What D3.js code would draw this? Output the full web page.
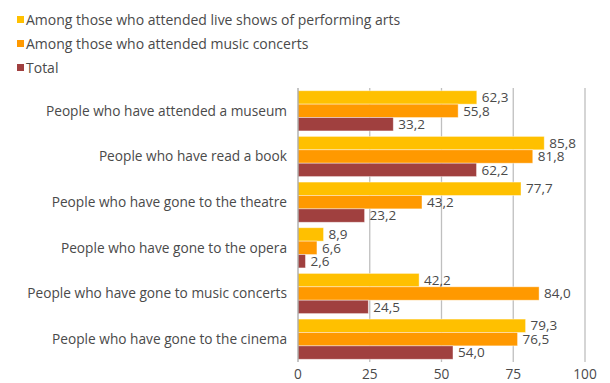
<!DOCTYPE html>
<html>
<head>
<meta charset="utf-8">
<script src="https://cdn.jsdelivr.net/npm/d3@7"></script>
<style>
  body { margin: 0; background: #fff; }
  text { font-family: "Open Sans", "Liberation Sans", sans-serif; fill: #4a4a4a; }
</style>
</head>
<body>
<div id="chart"></div>
<script>
// categories top to bottom
var categories = [
  "People who have attended a museum",
  "People who have read a book",
  "People who have gone to the theatre",
  "People who have gone to the opera",
  "People who have gone to music concerts",
  "People who have gone to the cinema"
];
var seriesNames = [
  "Among those who attended live shows of performing arts",
  "Among those who attended music concerts",
  "Total"
];
var performingArts = [62.3, 85.8, 77.7, 8.9, 42.2, 79.3];
var musicConcerts = [55.8, 81.8, 43.2, 6.6, 84.0, 76.5];
var total = [33.2, 62.2, 23.2, 2.6, 24.5, 54.0];
var xTicks = [0, 25, 50, 75, 100];

var colors = ["#FFC000", "#FF9900", "#A0403F"];
var series = [performingArts, musicConcerts, total];

var width = 610, height = 383;
var margin = {top: 88, left: 298, right: 25, bottom: 21};

var svg = d3.select("#chart").append("svg")
  .attr("width", width)
  .attr("height", height);

var x = d3.scaleLinear().domain([0, 100]).range([margin.left, width - margin.right]);
var y = d3.scaleBand().domain(categories).range([margin.top, height - margin.bottom]).paddingInner(0.12).paddingOuter(0.06);
var ySub = d3.scaleBand().domain([0, 1, 2]).range([0, y.bandwidth()]);

// gridlines
svg.append("g").selectAll("line")
  .data(xTicks.slice(1))
  .enter().append("line")
    .attr("x1", d => x(d)).attr("x2", d => x(d))
    .attr("y1", margin.top).attr("y2", height - margin.bottom)
    .attr("stroke", "#BFBFBF").attr("stroke-width", 1.3);

// bars
series.forEach(function(vals, s) {
  var g = svg.append("g");
  g.selectAll("rect")
    .data(vals)
    .enter().append("rect")
      .attr("x", x(0))
      .attr("y", (d, i) => y(categories[i]) + ySub(s))
      .attr("width", d => x(d) - x(0))
      .attr("height", ySub.bandwidth())
      .attr("fill", colors[s])
      .attr("stroke", "#fff")
      .attr("stroke-opacity", 0.5)
      .attr("stroke-width", 0.8);
  g.selectAll("text")
    .data(vals)
    .enter().append("text")
      .attr("x", d => x(d) + 5)
      .attr("y", (d, i) => y(categories[i]) + ySub(s) + ySub.bandwidth() / 2)
      .attr("dy", "0.35em")
      .style("font-size", "13.5px")
      .text(d => d.toFixed(1).replace(".", ","));
});

// y axis line
svg.append("line")
  .attr("x1", x(0)).attr("x2", x(0))
  .attr("y1", margin.top).attr("y2", height - margin.bottom)
  .attr("stroke", "#A6A6A6").attr("stroke-width", 1.3);

// category labels
svg.append("g").selectAll("text")
  .data(categories)
  .enter().append("text")
    .attr("x", x(0) - 11)
    .attr("y", d => y(d) + y.bandwidth() / 2)
    .attr("dy", "0.35em")
    .attr("text-anchor", "end")
    .style("font-size", "13.7px")
    .text(d => d);

// x tick labels
svg.append("g").selectAll("text")
  .data(xTicks)
  .enter().append("text")
    .attr("x", d => x(d))
    .attr("y", height - 4)
    .attr("text-anchor", "middle")
    .style("font-size", "13.7px")
    .text(d => d);

// legend
var legend = svg.append("g").selectAll("g")
  .data(seriesNames)
  .enter().append("g")
    .attr("transform", (d, i) => "translate(17," + (20 + i * 24) + ")");
legend.append("rect")
  .attr("x", 0).attr("y", -4)
  .attr("width", 7).attr("height", 7)
  .attr("fill", (d, i) => colors[i]);
legend.append("text")
  .attr("x", 9).attr("dy", "0.35em")
  .style("font-size", "14px")
  .text(d => d);
</script>
</body>
</html>
